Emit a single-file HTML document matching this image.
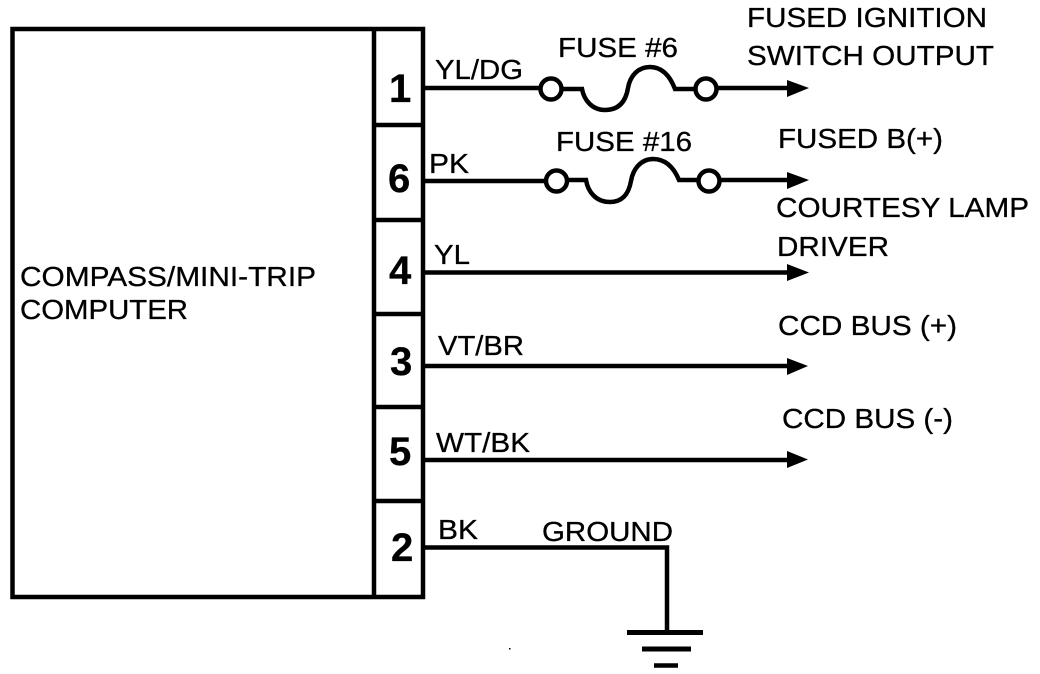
<!DOCTYPE html>
<html>
<head>
<meta charset="utf-8">
<style>
html,body{margin:0;padding:0;background:#fff;}
svg{display:block;}
text{font-family:"Liberation Sans",sans-serif;fill:#000;stroke:#000;stroke-width:.3px;}
.l{font-size:28px;}
.n{font-size:40px;font-weight:bold;}
</style>
</head>
<body>
<svg width="1040" height="674" viewBox="0 0 1040 674" xmlns="http://www.w3.org/2000/svg">
<g fill="none" stroke="#000">
<rect x="12.5" y="29" width="410.5" height="568" stroke-width="4.5"/>
<line x1="374" y1="29" x2="374" y2="597" stroke-width="4.5"/>
<line x1="374" y1="125" x2="423" y2="125" stroke-width="4.5"/>
<line x1="374" y1="220" x2="423" y2="220" stroke-width="4.5"/>
<line x1="374" y1="314" x2="423" y2="314" stroke-width="4.5"/>
<line x1="374" y1="407" x2="423" y2="407" stroke-width="4.5"/>
<line x1="374" y1="501" x2="423" y2="501" stroke-width="4.5"/>

<line x1="423" y1="88" x2="541" y2="88" stroke-width="4.5"/>
<circle cx="551" cy="89" r="10.5" stroke-width="4.5"/>
<path d="M562 89 H582 C584 100 592 110 605 110 C620 110 626 100 628 88 C630 76 638 67 650 67 C662 67 670 76 675 89 H695" stroke-width="4.5"/>
<circle cx="706" cy="89" r="10.5" stroke-width="4.5"/>
<line x1="717" y1="88" x2="790" y2="88" stroke-width="4.5"/>

<line x1="423" y1="181" x2="546" y2="181" stroke-width="4.5"/>
<circle cx="556.5" cy="181" r="10.5" stroke-width="4.5"/>
<path d="M567 180 H586 C588 192 596 202 610 202 C624 202 629 192 631 181 C633 169 641 159 653 159 C666 159 674 168 679 180 H698" stroke-width="4.5"/>
<circle cx="709" cy="181" r="10.5" stroke-width="4.5"/>
<line x1="720" y1="180" x2="790" y2="180" stroke-width="4.5"/>

<line x1="423" y1="272.5" x2="790" y2="272.5" stroke-width="4.5"/>
<line x1="423" y1="366" x2="790" y2="366" stroke-width="4.5"/>
<line x1="423" y1="460" x2="790" y2="460" stroke-width="4.5"/>

<path d="M423 547.5 H667 V632" stroke-width="4.5"/>
<line x1="627" y1="632.5" x2="703" y2="632.5" stroke-width="5"/>
<line x1="642" y1="649" x2="691" y2="649" stroke-width="5"/>
<line x1="654" y1="665.5" x2="678" y2="665.5" stroke-width="4.5"/>
</g>
<g fill="#000">
<polygon points="787,80 809,88 787,97"/>
<polygon points="787,172 809,180 787,189"/>
<polygon points="787,264 809,272.5 787,281"/>
<polygon points="787,358 808,366 787,375"/>
<polygon points="787,451 808,459.5 787,468"/>
<rect x="509" y="648" width="1.5" height="1.5"/>
</g>
<text class="n" x="389" y="102">1</text>
<text class="n" x="388" y="192">6</text>
<text class="n" x="389" y="284">4</text>
<text class="n" x="390" y="375">3</text>
<text class="n" x="389" y="465">5</text>
<text class="n" x="391" y="561">2</text>

<text class="l" x="20" y="286" textLength="296" lengthAdjust="spacingAndGlyphs">COMPASS/MINI-TRIP</text>
<text class="l" x="20" y="319" textLength="168" lengthAdjust="spacingAndGlyphs">COMPUTER</text>

<text class="l" x="435" y="79" textLength="88" lengthAdjust="spacingAndGlyphs">YL/DG</text>
<text class="l" x="429" y="173" textLength="40" lengthAdjust="spacingAndGlyphs">PK</text>
<text class="l" x="434" y="264" textLength="36" lengthAdjust="spacingAndGlyphs">YL</text>
<text class="l" x="438" y="355" textLength="86" lengthAdjust="spacingAndGlyphs">VT/BR</text>
<text class="l" x="436" y="452" textLength="94" lengthAdjust="spacingAndGlyphs">WT/BK</text>
<text class="l" x="438" y="539" textLength="40" lengthAdjust="spacingAndGlyphs">BK</text>
<text class="l" x="542" y="541" textLength="131" lengthAdjust="spacingAndGlyphs">GROUND</text>
<text class="l" x="558" y="57" textLength="120" lengthAdjust="spacingAndGlyphs">FUSE #6</text>
<text class="l" x="556" y="151" textLength="136" lengthAdjust="spacingAndGlyphs">FUSE #16</text>
<text class="l" x="747" y="27" textLength="240" lengthAdjust="spacingAndGlyphs">FUSED IGNITION</text>
<text class="l" x="747" y="65" textLength="247" lengthAdjust="spacingAndGlyphs">SWITCH OUTPUT</text>
<text class="l" x="778" y="148" textLength="165" lengthAdjust="spacingAndGlyphs">FUSED B(+)</text>
<text class="l" x="776" y="217" textLength="253" lengthAdjust="spacingAndGlyphs">COURTESY LAMP</text>
<text class="l" x="777" y="256" textLength="112" lengthAdjust="spacingAndGlyphs">DRIVER</text>
<text class="l" x="778" y="335" textLength="179" lengthAdjust="spacingAndGlyphs">CCD BUS (+)</text>
<text class="l" x="782" y="428" textLength="171" lengthAdjust="spacingAndGlyphs">CCD BUS (-)</text>
</svg>
</body>
</html>
